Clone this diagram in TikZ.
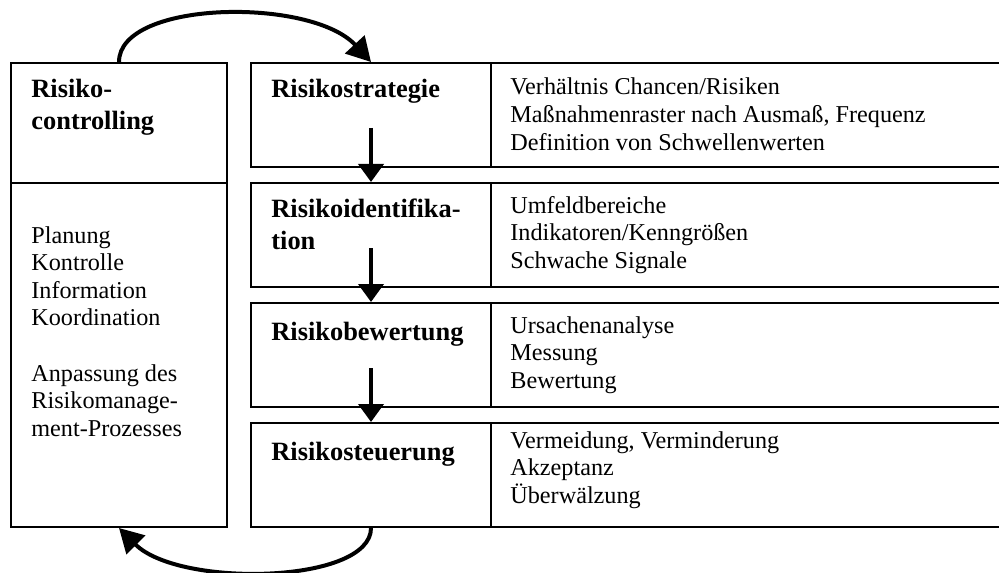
\documentclass[tikz,border=0pt]{standalone}
\usepackage{fontspec}
\setmainfont{Liberation Serif}
\usetikzlibrary{arrows.meta}
\begin{document}
\begin{tikzpicture}[x=0.5pt,y=-0.5pt,
  cell/.style={draw,line width=1pt,inner sep=0,anchor=north west},
  rowhead/.style={cell,minimum width=120pt,minimum height=52pt},
  rowbody/.style={cell,minimum width=260pt,minimum height=52pt},
  head/.style={font=\fontsize{13.2pt}{16pt}\selectfont\bfseries,anchor=base west,inner sep=0,align=left},
  body/.style={font=\fontsize{12.1pt}{13.8pt}\selectfont,anchor=base west,inner sep=0,align=left},
  flow/.style={line width=2pt,-{Triangle[length=9pt,width=12.5pt]}},
  loop/.style={line width=2pt,-{Triangle[length=12pt,width=13pt]}}]
\clip (0,0) rectangle (999,572);

% controlling column (multi-line texts are placed by their last baseline)
\node[cell,minimum width=108pt,minimum height=60pt] (lc) at (10,62) {};
\node[cell,minimum width=108pt,minimum height=172pt] (lb) at (10,182) {};
\node[head] (lct) at (31,130) {Risiko-\\controlling};
\node[body] (lbt) at (31,436.2) {Planung\\Kontrolle\\Information\\Koordination\\[13.8pt]Anpassung des\\Risikomanage-\\ment-Prozesses};

% process rows
\node[rowhead] (s1) at (250,62) {};
\node[rowbody] (b1) at (490,62) {};
\node[rowhead] (s2) at (250,182) {};
\node[rowbody] (b2) at (490,182) {};
\node[rowhead] (s3) at (250,302) {};
\node[rowbody] (b3) at (490,302) {};
\node[rowhead] (s4) at (250,422) {};
\node[rowbody] (b4) at (490,422) {};

\node[head] (t1) at (271,98) {Risikostrategie};
\node[head] (t2) at (271,249) {Risikoidentifika-\\tion};
\node[head] (t3) at (271,340) {Risikobewertung};
\node[head] (t4) at (271,460) {Risikosteuerung};

\node[body] (d1) at (510,150.2) {Verhältnis Chancen/Risiken\\Maßnahmenraster nach Ausmaß, Frequenz\\Definition von Schwellenwerten};
\node[body] (d2) at (510,268.2) {Umfeldbereiche\\Indikatoren/Kenngrößen\\Schwache Signale};
\node[body] (d3) at (510,388.2) {Ursachenanalyse\\Messung\\Bewertung};
\node[body] (d4) at (510,503.2) {Vermeidung, Verminderung\\Akzeptanz\\Überwälzung};

% flow between the steps
\draw[flow] ([yshift=20pt]s1.south) -- (s2.north);
\draw[flow] ([yshift=20pt]s2.south) -- (s3.north);
\draw[flow] ([yshift=20pt]s3.south) -- (s4.north);

% feedback loop
\draw[loop] (lc.north) .. controls +(0,-62) and +(-60,-65) .. (s1.north);
\draw[loop] (s4.south) .. controls +(0,56) and +(60,60) .. (lb.south);
\end{tikzpicture}
\end{document}
